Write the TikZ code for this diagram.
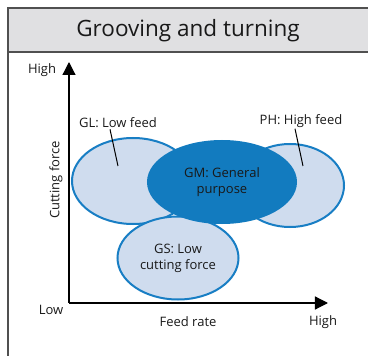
\documentclass[tikz,border=0pt]{standalone}
\usepackage{fontspec}
\setmainfont{Open Sans}
\usetikzlibrary{shapes.geometric,arrows.meta}
\definecolor{rimblue}{RGB}{24,126,196}
\definecolor{paleblue}{RGB}{207,220,238}
\definecolor{gmblue}{RGB}{18,123,191}
\definecolor{headgray}{RGB}{224,224,226}
\definecolor{framegray}{RGB}{80,80,80}
\definecolor{inktext}{RGB}{25,25,25}
\begin{document}
\begin{tikzpicture}[
  x=1pt, y=-1pt,
  region/.style={ellipse, draw=rimblue, line width=2pt, fill=paleblue, inner sep=0pt,
    align=center, font=\fontsize{13}{16}\selectfont, text=inktext},
  tag/.style={font=\fontsize{13}{15}\selectfont, text=inktext, inner sep=1pt},
  axis/.style={line width=1.2pt, -{Triangle[width=13pt,length=13pt]}}
]
  \useasboundingbox (0,0) rectangle (368,356);

  % frame and title band
  \fill[headgray] (8,8) rectangle (370,52);
  \draw[framegray, line width=1.2pt] (370,8) -- (8,8) -- (8,358);
  \draw[framegray, line width=1.2pt] (8,52) -- (370,52);
  \node[font=\fontsize{22.5}{26}\selectfont, text=inktext] (title) at (188,31) {Grooving and turning};

  % axes
  \coordinate (origin) at (69,303);
  \coordinate (ytop) at (69,62);
  \coordinate (xend) at (328,303);
  \draw[axis] (origin) -- (ytop);
  \draw[axis] (origin) -- (xend);
  \node[tag] (yhigh) at (42,70) {High};
  \node[tag] (xlow) at (51,310) {Low};
  \node[tag] (xname) at (188,322) {Feed rate};
  \node[tag] (xhigh) at (323,322) {High};
  \node[tag, rotate=90] (yname) at (56,180) {Cutting force};

  % regions
  \node[region, minimum width=122pt, minimum height=86pt] (gl) at (133,181) {};
  \node[region, minimum width=108pt, minimum height=83pt] (ph) at (290,185.5) {};
  \node[region, minimum width=121pt, minimum height=83pt] (gs) at (178,258) {GS: Low\\cutting force};
  \node[region, draw=gmblue, fill=gmblue, minimum width=148pt, minimum height=82pt] (gm) at (222,182) {GM: General\\purpose};

  % labels with leaders
  \node[tag] (gl-label) at (118,123) {GL: Low feed};
  \node[tag] (ph-label) at (301,121) {PH: High feed};
  \coordinate (gl-pin) at (118,166);
  \coordinate (ph-pin) at (303,166);
  \draw[line width=1pt] ([xshift=-8pt]gl-label.south) -- (gl-pin);
  \draw[line width=1pt] ([xshift=-6pt]ph-label.south) -- (ph-pin);
\end{tikzpicture}
\end{document}
